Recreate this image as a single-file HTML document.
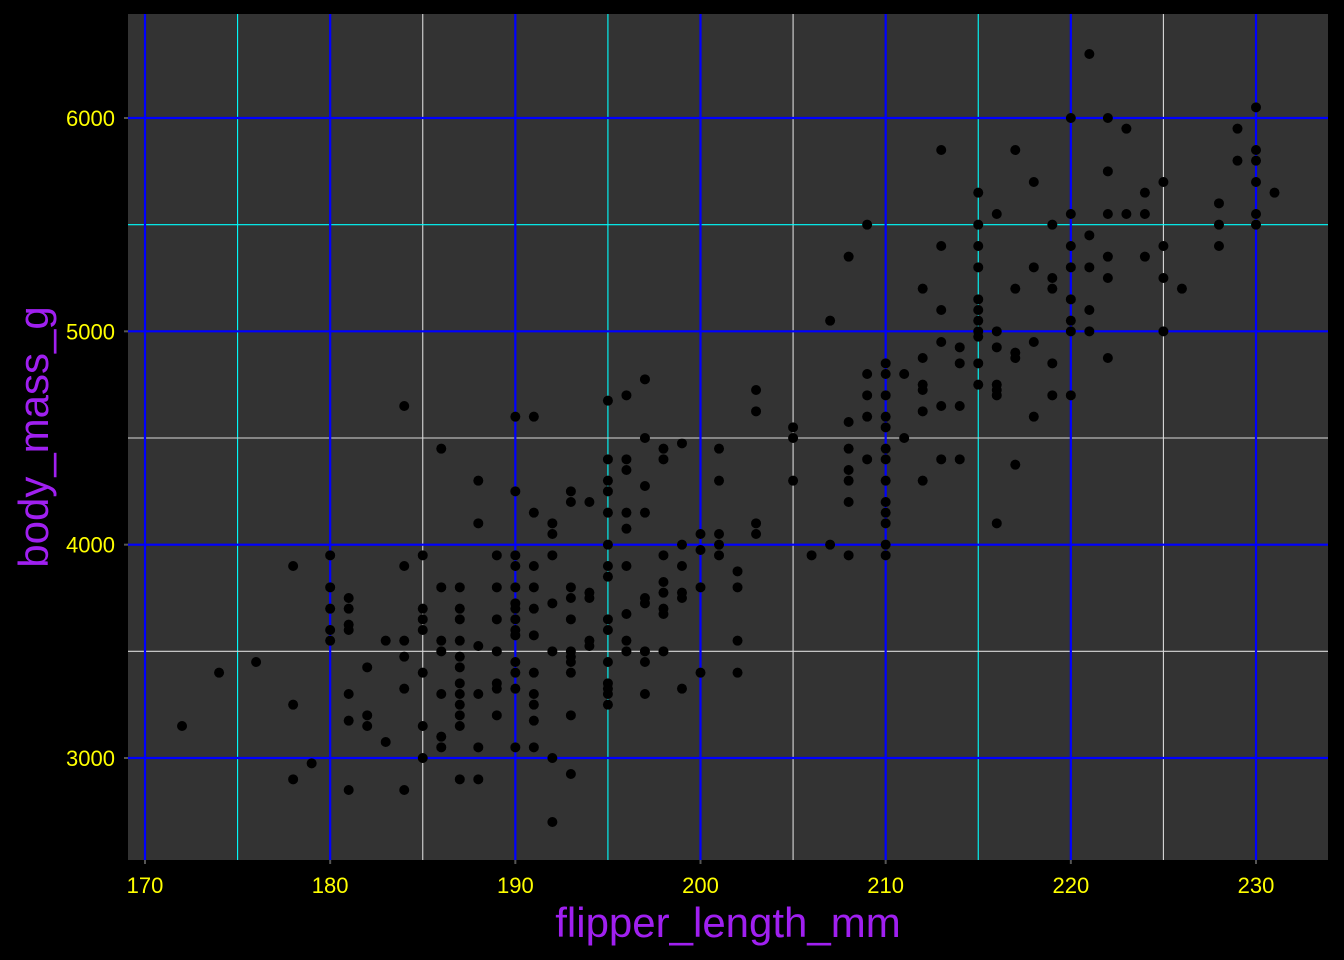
<!DOCTYPE html>
<html><head><meta charset="utf-8"><style>
html,body{margin:0;padding:0;background:#000;width:1344px;height:960px;overflow:hidden}
svg text{font-family:"Liberation Sans",Arial,sans-serif}
</style></head><body>
<svg id="chart" width="1344" height="960">
<rect x="0" y="0" width="1344" height="960" fill="#000"/>
<rect x="128" y="14" width="1200" height="846" fill="#333333"/>
<g id="grid"></g><g id="pts"></g><g id="axes"></g>
<text x="728" y="937" text-anchor="middle" font-size="42" fill="#a020f0">flipper_length_mm</text>
<text transform="translate(48,437) rotate(-90)" text-anchor="middle" font-size="42" fill="#a020f0">body_mass_g</text>
</svg>
<script>
const xTicks=[170,180,190,200,210,220,230];
const yTicks=[3000,4000,5000,6000];
const xMinor=[175,185,195,205,215,225];
const yMinor=[3500,4500,5500];
const flipper=[172,174,176,178,178,178,179,180,180,180,180,180,181,181,181,181,181,181,181,182,182,182,183,183,184,184,184,184,184,184,185,185,185,185,185,185,185,186,186,186,186,186,186,186,187,187,187,187,187,187,187,187,187,187,187,187,188,188,188,188,188,188,189,189,189,189,189,189,189,190,190,190,190,190,190,190,190,190,190,190,190,190,190,191,191,191,191,191,191,191,191,191,191,191,192,192,192,192,192,192,192,193,193,193,193,193,193,193,193,193,193,193,194,194,194,194,194,195,195,195,195,195,195,195,195,195,195,195,195,195,195,195,196,196,196,196,196,196,196,196,196,197,197,197,197,197,197,197,197,197,198,198,198,198,198,198,198,198,199,199,199,199,199,199,200,200,200,200,201,201,201,201,201,202,202,202,202,203,203,203,203,205,205,205,206,207,207,208,208,208,208,208,208,208,209,209,209,209,209,210,210,210,210,210,210,210,210,210,210,210,210,210,211,211,212,212,212,212,212,212,213,213,213,213,213,213,214,214,214,214,215,215,215,215,215,215,215,215,215,215,215,216,216,216,216,216,216,216,217,217,217,217,217,218,218,218,218,219,219,219,219,219,220,220,220,220,220,220,220,220,221,221,221,221,221,222,222,222,222,222,222,223,223,224,224,224,225,225,225,225,226,228,228,228,229,229,230,230,230,230,230,230,231];
const mass=[3150,3400,3450,3900,3250,2900,2975,3950,3800,3700,3600,3550,3750,3700,3625,3600,3300,3175,2850,3425,3200,3150,3550,3075,4650,3900,3550,3475,3325,2850,3950,3700,3650,3600,3400,3150,3000,4450,3800,3550,3500,3300,3100,3050,3800,3700,3650,3550,3475,3425,3350,3300,3250,3200,3150,2900,4300,4100,3525,3300,3050,2900,3950,3800,3650,3500,3350,3325,3200,4600,4250,3950,3900,3800,3725,3700,3650,3600,3575,3450,3400,3325,3050,4600,4150,3900,3800,3700,3575,3400,3300,3250,3175,3050,4100,4050,3950,3725,3500,3000,2700,4250,4200,3800,3750,3650,3500,3475,3450,3400,3200,2925,4200,3775,3750,3550,3525,4675,4400,4300,4250,4150,4000,3900,3850,3650,3600,3450,3350,3325,3300,3250,4700,4400,4350,4150,4075,3900,3675,3550,3500,4775,4500,4275,4150,3750,3725,3500,3450,3300,4450,4400,3950,3825,3775,3700,3675,3500,4475,4000,3900,3775,3750,3325,4050,3975,3800,3400,4450,4300,4050,4000,3950,3875,3800,3550,3400,4725,4625,4100,4050,4550,4500,4300,3950,5050,4000,5350,4575,4450,4350,4300,4200,3950,5500,4800,4700,4600,4400,4850,4800,4700,4600,4550,4450,4400,4300,4200,4150,4100,4000,3950,4800,4500,5200,4875,4750,4725,4625,4300,5850,5400,5100,4950,4650,4400,4925,4850,4650,4400,5650,5500,5400,5300,5150,5100,5050,5000,4975,4850,4750,5550,5000,4925,4750,4725,4700,4100,5850,5200,4900,4875,4375,5700,5300,4950,4600,5500,5250,5200,4850,4700,6000,5550,5400,5300,5150,5050,5000,4700,6300,5450,5300,5100,5000,6000,5750,5550,5350,5250,4875,5950,5550,5650,5550,5350,5700,5400,5250,5000,5200,5600,5500,5400,5950,5800,6050,5850,5800,5700,5550,5500,5650];
const NS='http://www.w3.org/2000/svg';
function sx(v){return 145+(v-170)*(1256-145)/60;}
function sy(v){return 758-(v-3000)*(758-118)/3000;}
function mk(tag,attrs,parent){const e=document.createElementNS(NS,tag);for(const k in attrs)e.setAttribute(k,attrs[k]);parent.appendChild(e);return e;}
const grid=document.getElementById('grid'),pts=document.getElementById('pts'),axes=document.getElementById('axes');
xMinor.forEach(v=>{const c=(v%20===15)?'#00ffff':'#d9d9d9';
 const l=mk('line',{x1:sx(v),x2:sx(v),y1:14,y2:860,stroke:c,'stroke-width':1.1},grid);
 
 });
yMinor.forEach(v=>{const c=(v===5500)?'#00ffff':'#d9d9d9';
 const l=mk('line',{x1:128,x2:1328,y1:sy(v),y2:sy(v),stroke:c,'stroke-width':1.1},grid);
 
 });
xTicks.forEach(v=>{const l=mk('line',{x1:sx(v),x2:sx(v),y1:14,y2:860,stroke:'#0000ff','stroke-width':2.2},grid);
 
 
 const t=mk('line',{x1:sx(v),x2:sx(v),y1:860,y2:864,stroke:'#555','stroke-width':2},axes);
 
 
 const tx=mk('text',{x:sx(v),y:893,'text-anchor':'middle','font-size':22,fill:'#ffff00'},axes);tx.textContent=v;
 
 });
yTicks.forEach(v=>{const l=mk('line',{x1:128,x2:1328,y1:sy(v),y2:sy(v),stroke:'#0000ff','stroke-width':2.2},grid);
 
 
 const t=mk('line',{x1:124,x2:128,y1:sy(v),y2:sy(v),stroke:'#555','stroke-width':2},axes);
 
 
 const tx=mk('text',{x:115,y:sy(v)+8,'text-anchor':'end','font-size':22,fill:'#ffff00'},axes);tx.textContent=v;
 
 });
flipper.forEach((f,i)=>{const c=mk('circle',{cx:sx(f),cy:sy(mass[i]),r:5,fill:'#000'},pts);
 
 });
</script>
</body></html>
